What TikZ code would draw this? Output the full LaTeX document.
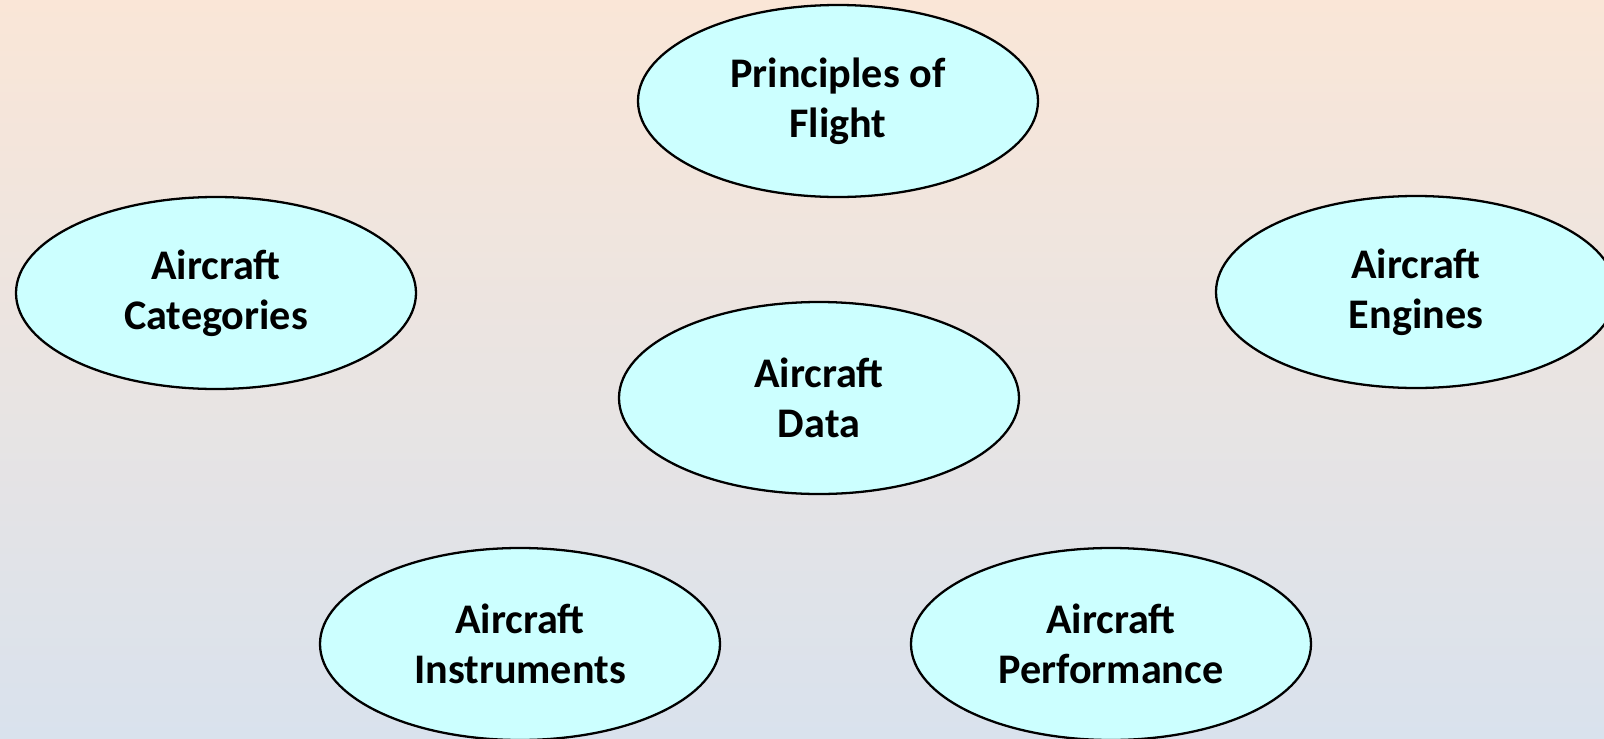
\documentclass[tikz,border=0pt]{standalone}
\usepackage{fontspec}
\setmainfont{Carlito}
\usetikzlibrary{shapes.geometric}
\definecolor{slidetop}{HTML}{FAE6D7}
\definecolor{slidebottom}{HTML}{D9E2ED}
\definecolor{topicfill}{HTML}{CCFFFF}
\begin{document}
\begin{tikzpicture}[
    topic/.style={ellipse, draw=black, line width=0.65pt, fill=topicfill,
      minimum width=4.0cm, minimum height=1.92cm, inner sep=0pt,
      align=center, font=\fontsize{12}{14.3}\selectfont\bfseries}
  ]
  \useasboundingbox (0,0) rectangle (16.04,7.38);
  \shade[top color=slidetop, bottom color=slidebottom] (0,0) rectangle (16.04,7.38);
  \draw
    (8.38,6.37) node[topic] (flight){Principles of\\Flight}
    (2.16,4.45) node[topic] (categories){Aircraft\\Categories}
    (14.16,4.46) node[topic] (engines){Aircraft\\Engines}
    (8.19,3.40) node[topic] (data){Aircraft\\Data}
    (5.20,0.94) node[topic] (instruments){Aircraft\\Instruments}
    (11.11,0.94) node[topic] (performance){Aircraft\\Performance};
\end{tikzpicture}
\end{document}
